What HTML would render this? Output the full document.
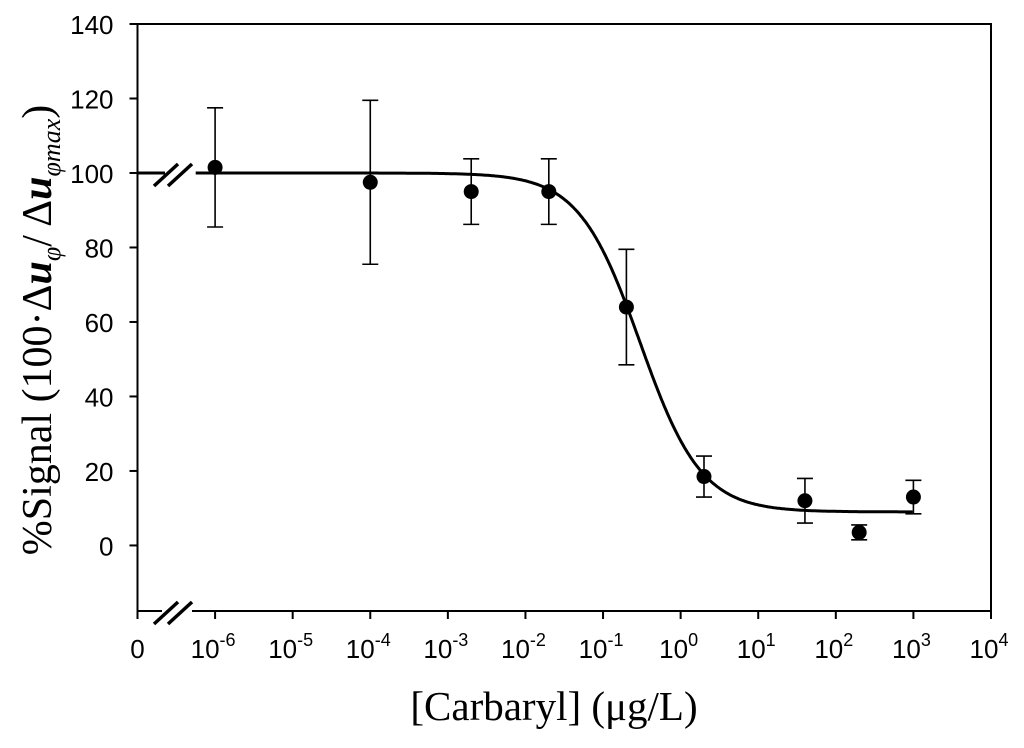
<!DOCTYPE html>
<html><head><meta charset="utf-8"><style>
body{margin:0;background:#fff;width:1024px;height:743px;overflow:hidden}
svg text{font-family:"Liberation Sans",Arial,sans-serif}
</style></head><body>
<svg id="chart" width="1024" height="743" viewBox="0 0 1024 743" xmlns="http://www.w3.org/2000/svg">
<g id="axes"></g>
<g id="marks"></g>
<text transform="translate(51,330) rotate(-90)" text-anchor="middle" font-size="42" style="font-family:'Liberation Serif',serif">%Signal (100·Δ<tspan font-weight="bold" font-style="italic">u</tspan><tspan font-size="26" font-style="italic" dy="9">φ</tspan><tspan dy="-9">/ Δ</tspan><tspan font-weight="bold" font-style="italic">u</tspan><tspan font-size="26" font-style="italic" dy="9">φmax</tspan><tspan dy="-9">)</tspan></text>
<text x="554" y="720" text-anchor="middle" font-size="41" style="font-family:'Liberation Serif',serif">[Carbaryl] (μg/L)</text>
</svg>
<script>
const xs = [1e-6, 1e-4, 2e-3, 2e-2, 0.2, 2, 40, 200, 1000];
const ys = [101.5, 97.5, 95, 95, 64, 18.5, 12, 3.5, 13];
const errs = [16, 22, 8.8, 8.8, 15.5, 5.5, 6, 2, 4.5];
const yTicks = [0, 20, 40, 60, 80, 100, 120, 140];
const xTickExps = [-6, -5, -4, -3, -2, -1, 0, 1, 2, 3, 4];
const fitTop = 100, fitBottom = 9, fitIC50 = 0.3, fitHill = 1.1;

const L=137.5, R=991, T=24, B=611;
const xMinE=-7, xMaxE=4, yMin=-17.6, yMax=140;
const X = v => L + (Math.log10(v)-xMinE)/(xMaxE-xMinE)*(R-L);
const Y = v => B - (v-yMin)/(yMax-yMin)*(B-T);
const NS="http://www.w3.org/2000/svg";
const ax=document.getElementById('axes'), mk=document.getElementById('marks');
function el(tag, attrs, parent){const e=document.createElementNS(NS,tag);for(const k in attrs)e.setAttribute(k,attrs[k]);parent.appendChild(e);return e;}

let r=el('rect',{x:L,y:T,width:R-L,height:B-T,fill:'none',stroke:'#000','stroke-width':2},ax);


let g=el('rect',{x:162,y:B-3,width:30,height:6,fill:'#fff'},ax);


[[154,B+13,178,B-9],[168,B+13,192,B-9]].forEach(s=>{
  let l=el('line',{x1:s[0],y1:s[1],x2:s[2],y2:s[3],stroke:'#000','stroke-width':3.5},ax);
  
  
});
yTicks.forEach(t=>{
  let l=el('line',{x1:L-8,y1:Y(t),x2:L,y2:Y(t),stroke:'#000','stroke-width':2},ax);
  
  
  let tx=el('text',{x:L-24,y:Y(t)+10,'text-anchor':'end','font-size':26},ax);
  tx.textContent=t;
  
  
});
let z=el('text',{x:L,y:B+47,'text-anchor':'middle','font-size':26},ax);
z.textContent='0';


let zl=el('line',{x1:L,y1:B,x2:L,y2:B+8,stroke:'#000','stroke-width':2},ax);


xTickExps.forEach(e=>{
  const x=X(Math.pow(10,e));
  let l=el('line',{x1:x,y1:B,x2:x,y2:B+8,stroke:'#000','stroke-width':2},ax);
  
  
  let tx=el('text',{x:x-2,y:B+47,'text-anchor':'middle','font-size':26},ax);
  tx.innerHTML='10<tspan font-size="18" dy="-12">'+e+'</tspan>';
  
  
});
const f=v=>fitBottom+(fitTop-fitBottom)/(1+Math.pow(v/fitIC50,fitHill));
let ls=el('line',{x1:L,y1:Y(fitTop),x2:165,y2:Y(fitTop),stroke:'#000','stroke-width':3},mk);


[[154,Y(fitTop)+13,178,Y(fitTop)-9],[168,Y(fitTop)+13,192,Y(fitTop)-9]].forEach(s=>{
  let l=el('line',{x1:s[0],y1:s[1],x2:s[2],y2:s[3],stroke:'#000','stroke-width':3.5},ax);
  
  
});
let d='';
for(let e=-6.25;e<=3.0001;e+=0.02){const v=Math.pow(10,e);d+=(d?'L':'M')+X(v).toFixed(1)+','+Y(f(v)).toFixed(1);}
let p=el('path',{d:d,fill:'none',stroke:'#000','stroke-width':3},mk);


xs.forEach((v,i)=>{
  const x=X(v), y1=Y(ys[i]+errs[i]), y2=Y(ys[i]-errs[i]);
  let e=el('path',{d:`M${x},${y1}V${y2}M${x-8},${y1}H${x+8}M${x-8},${y2}H${x+8}`,stroke:'#000','stroke-width':1.6,fill:'none'},mk);
  
  
  let c=el('circle',{cx:x,cy:Y(ys[i]),r:7.5,fill:'#000'},mk);
  
  
});
</script>
</body></html>
